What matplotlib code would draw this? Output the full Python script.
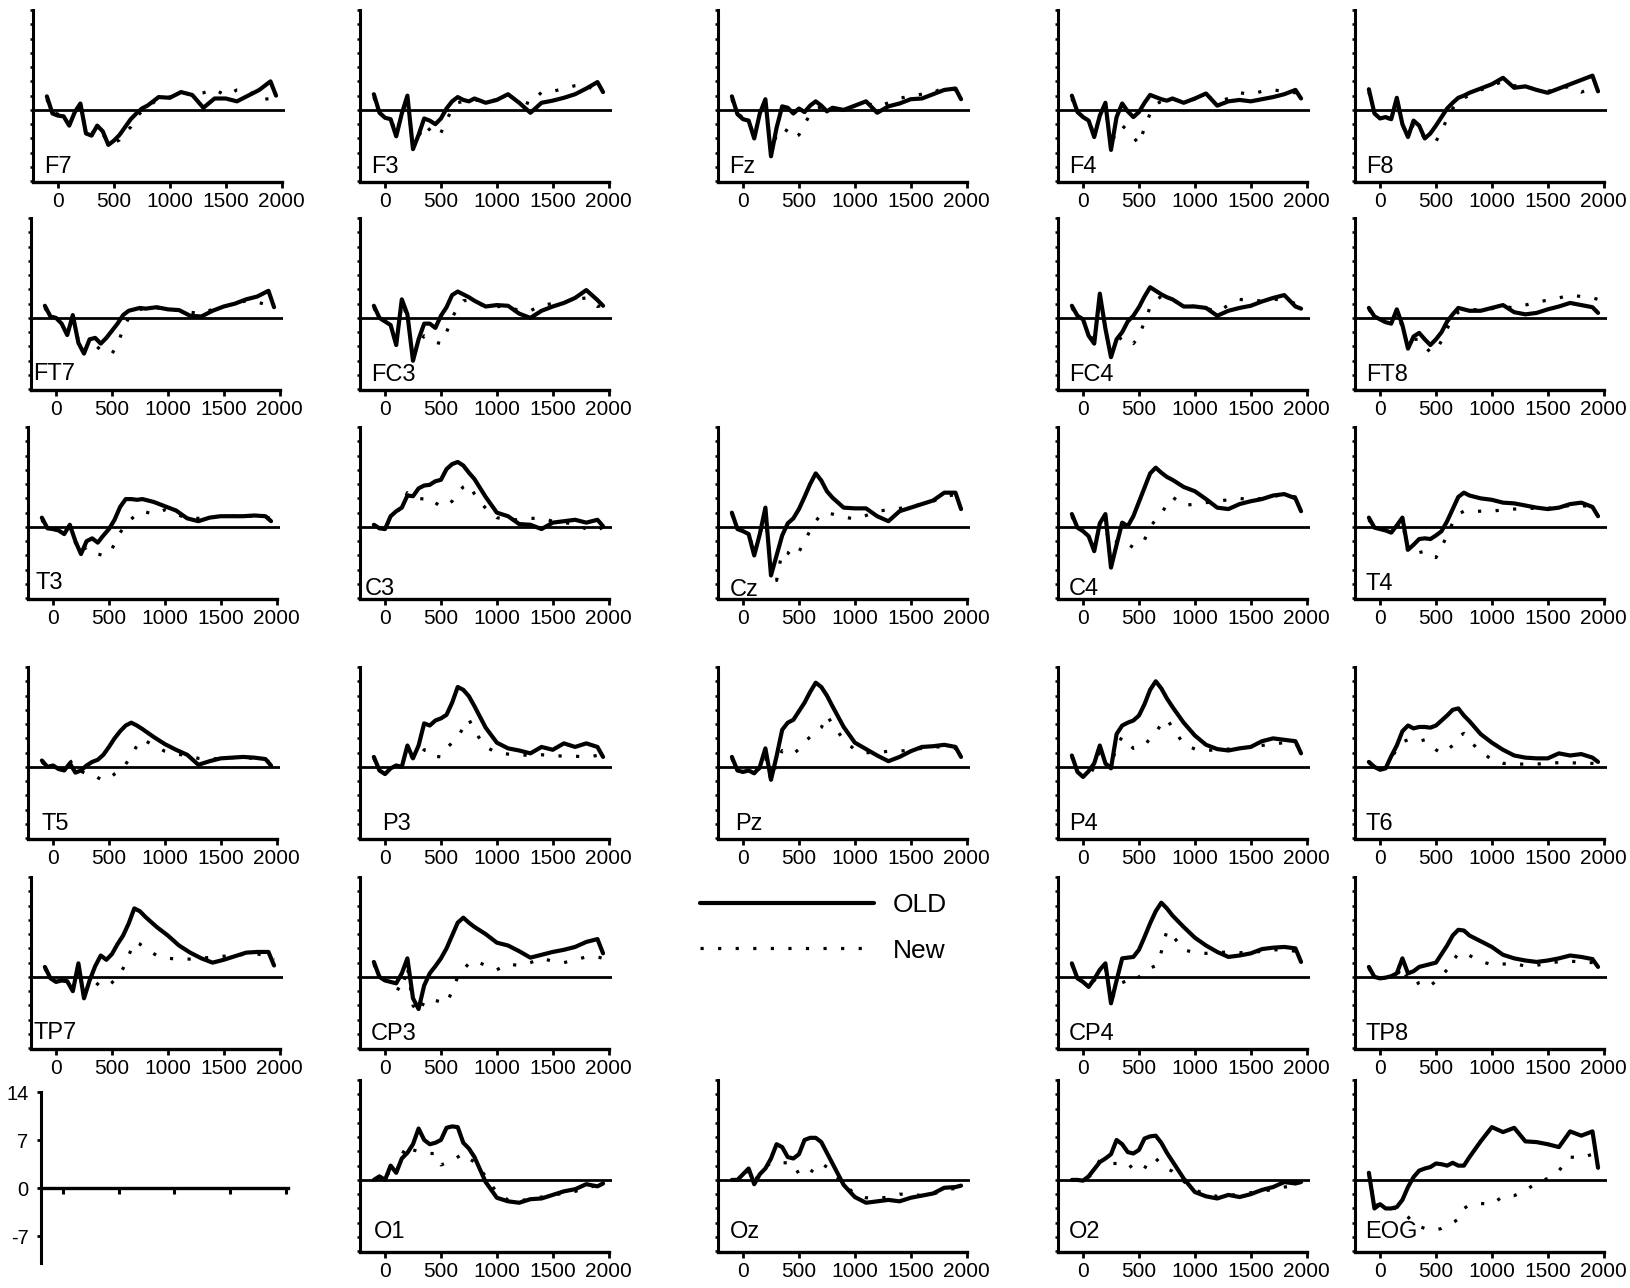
import matplotlib
matplotlib.use('Agg')
import matplotlib.pyplot as plt
from matplotlib.lines import Line2D

plt.rcParams['font.family'] = ['Liberation Sans', 'DejaVu Sans']

# ---------------- data ----------------
time_ms = [-100, -50, 0, 50, 100, 150, 200, 250, 300, 350, 400, 450, 500, 550, 600, 650, 700, 750, 800,
           900, 1000, 1100, 1200, 1300, 1400, 1500, 1600, 1700, 1800, 1900, 1950]

x_ticks = [0, 500, 1000, 1500, 2000]
scale_ticks = [14, 7, 0, -7]

f7_old = [1.9, -0.5, -0.8, -0.9, -2.2, -0.3, 0.9, -3.3, -3.6, -2.2, -3.0, -4.9, -4.3, -3.5, -2.4, -1.3, -0.5, 0.2, 0.6, 1.8, 1.7, 2.5, 2.1, 0.3, 1.6, 1.6, 1.2, 2.0, 2.8, 4.0, 2.0]
f7_new = [1.5, -0.3, -0.6, -1.0, -2.0, -0.5, 0.5, -3.0, -3.3, -2.5, -3.4, -4.5, -4.6, -4.2, -3.2, -2.4, -1.0, -0.2, 0.5, 1.5, 1.8, 2.4, 2.2, 2.4, 2.9, 2.0, 2.8, 2.8, 1.4, 1.6, 2.0]
f3_old = [2.2, -0.4, -1.1, -1.3, -3.7, -0.5, 2.0, -5.5, -3.5, -1.2, -1.5, -2.0, -1.2, 0.2, 1.2, 1.8, 1.4, 1.2, 1.6, 1.0, 1.4, 2.2, 1.0, -0.4, 1.0, 1.3, 1.7, 2.2, 3.0, 3.9, 2.5]
f3_new = [1.8, -0.4, -1.0, -1.2, -3.3, -0.6, 1.5, -5.0, -3.8, -2.0, -2.8, -3.7, -3.2, -1.5, 0.2, 1.0, 1.2, 1.2, 1.4, 1.2, 1.4, 2.0, 1.4, 0.8, 2.5, 2.6, 3.0, 3.4, 3.6, 2.2, 2.6]
fz_old = [1.9, -0.6, -1.3, -1.5, -4.0, -0.5, 1.5, -6.5, -2.5, 0.5, 0.3, -0.5, 0.2, -0.3, 0.6, 1.2, 0.6, -0.2, 0.3, 0.0, 0.6, 1.2, -0.4, 0.5, 0.9, 1.5, 1.6, 2.2, 2.8, 3.0, 1.5]
fz_new = [1.5, -0.5, -1.1, -1.5, -3.6, -0.6, 1.0, -5.8, -3.5, -2.5, -3.0, -4.0, -3.5, -2.0, -0.6, 0.2, 0.4, 0.0, 0.2, 0.2, 0.5, 1.0, 0.4, 1.0, 1.6, 2.0, 2.2, 2.4, 3.2, 2.8, 2.0]
f4_old = [2.0, -0.3, -1.0, -1.5, -3.8, -0.8, 1.0, -5.6, -1.0, 0.9, -0.2, -1.0, -0.3, 1.0, 2.1, 1.8, 1.5, 1.3, 1.6, 1.0, 1.6, 2.3, 0.6, 1.2, 1.4, 1.2, 1.5, 1.8, 2.2, 2.8, 1.6]
f4_new = [1.6, -0.3, -0.9, -1.4, -3.5, -0.9, 0.6, -5.0, -2.8, -2.2, -2.9, -3.8, -4.8, -2.5, -0.5, 0.8, 1.2, 1.4, 1.5, 1.2, 1.5, 2.0, 1.2, 1.6, 2.4, 2.2, 2.6, 2.8, 2.6, 2.4, 2.0]
f8_old = [2.9, -0.5, -1.2, -1.0, -1.3, 1.7, -2.0, -3.8, -1.5, -2.2, -4.0, -3.3, -2.2, -1.0, 0.2, 1.0, 1.7, 2.0, 2.4, 3.0, 3.6, 4.5, 3.1, 3.3, 2.8, 2.4, 3.0, 3.6, 4.2, 4.8, 2.6]
f8_new = [2.5, -0.5, -1.0, -1.0, -1.5, 1.2, -2.2, -3.5, -2.0, -2.8, -4.0, -4.6, -4.4, -3.0, -1.2, 0.2, 1.2, 1.7, 2.0, 2.8, 3.4, 4.0, 3.4, 3.2, 2.9, 2.6, 3.0, 3.3, 2.5, 3.0, 2.8]

ft7_old = [1.7, 0.2, 0.0, -0.8, -2.4, 0.4, -3.5, -5.0, -3.0, -2.8, -3.6, -2.8, -1.8, -0.8, 0.4, 1.0, 1.2, 1.4, 1.3, 1.5, 1.2, 1.1, 0.3, 0.2, 1.0, 1.6, 2.0, 2.6, 3.0, 3.8, 1.5]
ft7_new = [1.4, 0.2, 0.0, -0.8, -2.2, 0.0, -3.2, -4.6, -3.5, -3.8, -4.5, -5.0, -5.0, -3.8, -1.5, 0.0, 0.8, 1.2, 1.3, 1.4, 1.2, 1.0, 0.8, 0.6, 1.2, 1.6, 2.0, 2.4, 2.2, 1.8, 1.8]
fc3_old = [1.7, 0.0, -0.5, -1.0, -3.8, 2.6, 0.5, -6.0, -3.0, -0.8, -0.8, -1.4, 0.3, 1.5, 3.2, 3.7, 3.3, 2.9, 2.4, 1.6, 1.8, 1.7, 0.6, 0.0, 1.0, 1.6, 2.1, 2.8, 3.9, 2.5, 1.7]
fc3_new = [1.4, 0.0, -0.5, -1.0, -3.4, 2.0, 0.3, -5.5, -3.8, -2.5, -2.8, -3.4, -3.6, -2.0, 0.0, 1.5, 2.4, 2.5, 2.2, 1.6, 1.6, 1.6, 1.0, 1.0, 1.8, 2.0, 2.2, 2.6, 2.8, 1.6, 1.8]
fc4_old = [1.7, 0.3, -0.2, -2.5, -3.6, 3.4, -1.5, -5.5, -3.0, -2.0, -0.5, 0.3, 1.5, 3.0, 4.3, 3.8, 3.3, 2.9, 2.6, 1.6, 1.6, 1.4, 0.3, 1.0, 1.4, 1.7, 2.3, 2.8, 3.2, 1.6, 1.3]
fc4_new = [1.4, 0.3, -0.3, -2.2, -3.3, 2.8, -1.8, -5.0, -3.4, -2.6, -3.0, -3.6, -2.6, -0.5, 1.5, 2.5, 3.0, 2.8, 2.5, 1.8, 1.6, 1.4, 0.8, 1.8, 2.6, 2.4, 2.4, 2.6, 2.6, 2.0, 1.8]
ft8_old = [1.4, 0.2, -0.2, -0.6, -0.8, 1.2, -1.0, -4.3, -2.6, -2.1, -3.0, -3.8, -3.0, -2.0, -0.5, 0.5, 1.4, 1.2, 1.0, 1.0, 1.4, 1.8, 0.8, 0.5, 0.7, 1.2, 1.6, 2.1, 1.8, 1.5, 0.7]
ft8_new = [1.2, 0.2, -0.2, -0.6, -1.0, 0.8, -1.3, -4.0, -3.0, -3.0, -4.0, -4.8, -4.6, -3.2, -1.5, 0.0, 0.8, 1.0, 1.1, 1.2, 1.3, 1.6, 1.4, 1.8, 2.2, 2.5, 2.8, 3.2, 3.0, 2.8, 2.6]

t3_old = [1.3, -0.2, -0.3, -0.5, -1.0, 0.3, -2.0, -3.8, -2.0, -1.6, -2.2, -1.2, -0.3, 1.0, 2.8, 3.9, 3.9, 3.8, 3.9, 3.5, 2.9, 2.3, 1.2, 0.8, 1.3, 1.5, 1.5, 1.5, 1.6, 1.5, 0.8]
t3_new = [1.0, -0.2, -0.3, -0.5, -1.0, 0.0, -2.2, -3.6, -2.8, -3.0, -3.8, -4.0, -3.8, -2.4, -0.8, 0.3, 1.1, 1.8, 2.2, 1.8, 2.4, 1.8, 1.2, 1.2, 1.4, 1.5, 1.5, 1.5, 1.5, 1.4, 1.2]
c3_old = [0.3, -0.2, -0.3, 1.5, 2.2, 2.7, 4.4, 4.3, 5.4, 5.8, 5.9, 6.4, 6.6, 8.1, 8.8, 9.1, 8.6, 7.6, 6.7, 4.2, 2.0, 1.5, 0.4, 0.3, -0.3, 0.6, 0.8, 1.0, 0.6, 1.0, 0.1]
c3_new = [0.3, -0.2, -0.3, 1.3, 2.0, 2.8, 4.8, 4.2, 4.0, 3.9, 4.1, 3.4, 2.8, 3.0, 3.6, 4.8, 5.6, 6.0, 4.6, 2.6, 1.3, 1.0, 1.0, 1.2, 1.2, 0.8, 0.6, 0.4, -0.3, -0.5, 0.0]
cz_old = [2.0, -0.3, -0.6, -1.0, -4.0, -1.0, 2.7, -6.8, -4.0, -1.2, 0.5, 1.2, 2.5, 4.2, 6.0, 7.5, 6.5, 5.0, 4.1, 2.7, 2.6, 2.6, 1.5, 0.8, 2.2, 2.7, 3.2, 3.7, 4.8, 4.8, 2.5]
cz_new = [1.8, -0.3, -0.6, -1.0, -3.6, -1.2, 2.0, -6.0, -7.5, -3.4, -3.6, -4.3, -3.5, -2.0, -0.5, 0.8, 1.8, 2.0, 1.8, 1.4, 1.1, 1.6, 2.2, 2.4, 2.6, 2.8, 3.2, 3.6, 4.3, 4.5, 3.5]
c4_old = [1.8, -0.1, -0.6, -1.3, -3.4, 0.5, 1.8, -5.7, -2.5, 0.6, 0.1, 1.5, 3.5, 5.5, 7.5, 8.3, 7.6, 7.0, 6.6, 5.6, 5.0, 3.9, 2.7, 2.5, 3.2, 3.6, 3.9, 4.4, 4.6, 4.0, 2.2]
c4_new = [1.5, -0.1, -0.6, -1.2, -3.0, 0.2, 1.2, -5.2, -2.0, -1.8, -2.4, -2.9, -2.4, -1.8, 0.0, 1.0, 1.8, 3.2, 4.2, 3.0, 3.2, 3.4, 3.6, 3.8, 4.0, 3.8, 4.0, 4.3, 4.5, 4.2, 3.0]
t4_old = [1.3, -0.1, -0.3, -0.5, -0.8, 0.2, 1.3, -3.2, -2.5, -1.7, -1.6, -1.7, -1.2, -0.6, 0.8, 2.5, 4.2, 4.8, 4.4, 4.0, 3.8, 3.4, 3.3, 3.0, 2.7, 2.5, 2.7, 3.2, 3.4, 2.8, 1.5]
t4_new = [1.0, -0.1, -0.3, -0.5, -0.8, 0.0, 0.8, -3.6, -4.0, -3.6, -3.4, -3.9, -4.3, -2.8, -1.2, 0.6, 1.8, 2.2, 2.2, 2.2, 2.2, 2.4, 2.5, 2.6, 2.6, 2.6, 2.8, 3.0, 3.0, 2.8, 2.2]

t5_old = [0.9, 0.0, 0.2, -0.3, -0.5, 0.5, -0.8, -0.5, 0.2, 0.7, 1.0, 1.7, 2.8, 4.0, 5.0, 5.8, 6.2, 5.8, 5.3, 4.2, 3.2, 2.4, 1.7, 0.3, 0.8, 1.2, 1.3, 1.4, 1.3, 1.1, 0.2]
t5_new = [0.7, 0.0, 0.2, -0.3, 0.2, 1.0, -0.5, -0.6, -1.0, -1.0, -1.5, -1.9, -1.6, -1.0, -0.6, 0.4, 1.5, 3.0, 3.9, 3.0, 2.2, 1.8, 1.6, 1.2, 1.1, 1.2, 1.3, 1.3, 1.2, 1.0, 0.5]
p3_old = [1.4, -0.5, -1.0, -0.2, 0.2, 0.0, 3.0, 1.2, 3.0, 6.1, 5.8, 6.5, 6.8, 7.3, 9.0, 11.2, 10.8, 9.9, 8.5, 5.5, 3.4, 2.6, 2.3, 1.9, 2.8, 2.4, 3.3, 2.8, 3.3, 2.8, 1.4]
p3_new = [1.2, -0.5, -1.0, -0.2, 0.2, 0.0, 1.0, 1.5, 1.2, 2.4, 2.4, 1.5, 1.4, 2.6, 3.4, 4.2, 5.5, 6.7, 5.0, 2.8, 2.0, 1.8, 1.7, 1.6, 1.7, 1.6, 1.5, 1.5, 1.4, 1.6, 1.6]
pz_old = [1.4, -0.5, -0.7, -0.5, -0.9, 0.0, 2.6, -1.8, 1.5, 5.2, 6.2, 6.6, 7.8, 9.0, 10.5, 11.8, 11.2, 10.0, 8.5, 5.6, 3.4, 2.5, 1.6, 0.8, 1.4, 2.2, 2.8, 2.9, 3.1, 2.8, 1.4]
pz_new = [1.2, -0.5, -0.7, -0.5, -0.8, -0.2, 1.5, -1.9, 0.5, 2.3, 2.0, 1.8, 2.5, 3.5, 4.2, 4.8, 5.5, 7.2, 6.0, 3.8, 2.4, 2.0, 2.0, 2.2, 2.2, 2.4, 2.6, 2.8, 2.8, 2.6, 2.0]
p4_old = [1.6, -0.7, -1.4, -0.6, 0.5, 3.0, 0.5, -0.2, 4.6, 5.8, 6.2, 6.5, 7.2, 8.8, 10.8, 12.0, 11.0, 9.6, 8.4, 6.2, 4.4, 3.1, 2.5, 2.3, 2.6, 2.8, 3.6, 4.0, 3.8, 3.6, 1.9]
p4_new = [1.4, -0.7, -1.3, -1.4, 0.0, 2.2, 0.4, 0.0, 3.0, 4.2, 3.4, 2.6, 2.8, 3.0, 4.0, 4.8, 6.0, 6.7, 5.5, 3.2, 2.5, 2.3, 2.4, 2.5, 2.6, 2.8, 3.0, 3.2, 3.4, 3.2, 2.6]
t6_old = [0.7, 0.0, -0.4, -0.2, 1.5, 3.0, 5.0, 5.8, 5.4, 5.6, 5.6, 5.5, 5.8, 6.5, 7.2, 8.0, 8.2, 7.2, 6.4, 4.6, 3.4, 2.4, 1.6, 1.3, 1.2, 1.2, 1.9, 1.6, 1.8, 1.3, 0.7]
t6_new = [0.6, 0.0, -0.4, -0.2, 1.2, 2.5, 3.5, 3.8, 3.6, 3.6, 3.8, 3.0, 2.4, 1.9, 2.4, 3.0, 4.2, 4.7, 3.6, 2.2, 1.0, 0.5, 0.4, 0.4, 0.4, 0.5, 0.6, 0.6, 0.5, 0.5, 0.5]

tp7_old = [1.4, -0.2, -0.7, -0.5, -0.6, -2.0, 1.9, -3.0, -0.5, 1.5, 3.0, 2.4, 3.2, 4.6, 5.8, 7.5, 9.6, 9.2, 8.4, 7.0, 5.8, 4.4, 3.4, 2.6, 2.0, 2.4, 2.9, 3.4, 3.5, 3.5, 1.6]
tp7_new = [1.2, -0.2, -0.6, -0.5, -0.6, -1.6, 1.2, -2.5, -1.0, -0.7, -1.4, -1.4, -0.8, 0.0, 1.2, 3.0, 4.9, 4.6, 4.0, 3.0, 2.6, 2.5, 2.5, 2.6, 2.8, 2.9, 3.0, 3.2, 3.2, 3.0, 2.4]
cp3_old = [2.1, 0.0, -0.5, -0.7, -0.9, 0.5, 2.6, -3.0, -4.5, -1.2, 0.5, 1.5, 2.6, 4.0, 5.8, 7.6, 8.3, 7.6, 7.0, 6.0, 4.8, 4.4, 3.6, 2.7, 3.1, 3.5, 3.8, 4.2, 4.9, 5.3, 3.3]
cp3_new = [1.8, 0.0, -0.5, -0.7, -1.5, -2.0, 1.5, -4.0, -5.0, -3.5, -3.0, -3.3, -3.5, -3.7, -2.0, 0.0, 1.0, 1.9, 2.3, 1.6, 1.0, 1.8, 1.6, 2.0, 2.6, 2.2, 2.0, 2.4, 2.8, 2.8, 2.6]
cp4_old = [1.9, -0.2, -0.7, -1.4, -0.3, 1.0, 1.9, -3.7, -0.5, 2.6, 2.7, 2.8, 3.8, 5.6, 7.5, 9.2, 10.4, 9.6, 8.6, 7.0, 5.5, 4.4, 3.5, 2.8, 3.0, 3.3, 3.9, 4.1, 4.2, 4.0, 2.1]
cp4_new = [1.7, -0.2, -0.7, -1.3, -0.5, 0.5, 1.2, -3.2, -1.8, -0.8, -0.5, -0.7, 0.0, 0.6, 1.2, 1.6, 3.5, 6.5, 5.8, 3.8, 3.4, 3.3, 3.4, 3.5, 3.4, 3.4, 3.6, 3.8, 3.8, 3.6, 3.2]
tp8_old = [1.4, 0.0, -0.2, -0.1, 0.1, 0.5, 2.6, 0.5, 0.8, 1.4, 1.6, 1.8, 2.0, 3.2, 4.4, 5.8, 6.6, 6.5, 5.8, 5.0, 4.2, 3.1, 2.6, 2.3, 2.1, 2.3, 2.6, 3.0, 2.8, 2.5, 1.4]
tp8_new = [1.2, 0.0, -0.2, -0.1, 0.0, 0.2, 1.5, -0.5, -1.2, -0.8, -0.6, -1.2, -0.6, 0.2, 1.0, 2.2, 3.3, 3.4, 3.0, 2.2, 1.7, 1.8, 1.9, 1.5, 1.6, 2.0, 2.1, 2.2, 2.1, 2.0, 1.8]

o1_old = [0.0, 0.5, 0.0, 2.0, 1.0, 3.0, 3.8, 5.0, 7.2, 5.6, 5.0, 5.2, 5.6, 7.3, 7.5, 7.4, 5.2, 4.4, 3.2, -0.3, -2.5, -3.0, -3.2, -2.7, -2.6, -2.1, -1.6, -1.3, -0.6, -0.9, -0.5]
o1_new = [0.0, 0.4, 0.0, 1.6, 1.0, 3.5, 4.9, 4.2, 4.0, 3.8, 3.7, 3.7, 2.1, 2.4, 2.7, 3.2, 3.7, 3.0, 2.5, 0.5, -1.8, -2.8, -3.0, -2.6, -2.4, -2.2, -1.8, -1.6, -1.2, -0.7, -0.8]
oz_old = [0.0, 0.0, 0.8, 1.6, -0.6, 0.8, 1.6, 3.0, 5.0, 4.6, 3.2, 3.0, 3.6, 5.6, 5.9, 5.9, 5.3, 3.8, 2.3, -0.7, -2.4, -3.2, -3.0, -2.8, -3.0, -2.5, -2.2, -1.9, -1.1, -1.0, -0.8]
oz_new = [0.0, 0.0, 0.6, 1.2, -0.3, 1.0, 1.8, 2.4, 2.5, 2.4, 2.4, 2.3, 0.8, 0.6, 0.9, 2.0, 2.3, 1.8, 1.0, -0.5, -2.0, -2.5, -2.6, -2.4, -2.0, -2.0, -2.2, -2.0, -1.4, -1.2, -1.0]
o2_old = [0.0, 0.0, -0.1, 0.5, 1.5, 2.5, 3.0, 3.6, 5.6, 5.0, 3.9, 3.7, 4.2, 5.8, 6.1, 6.2, 5.2, 3.8, 2.6, 0.2, -1.7, -2.3, -2.6, -2.1, -2.4, -2.0, -1.4, -1.0, -0.3, -0.5, -0.3]
o2_new = [0.0, 0.0, -0.1, 0.4, 1.2, 2.8, 2.6, 2.3, 2.3, 2.4, 2.4, 1.4, 1.3, 1.6, 3.0, 3.0, 2.2, 1.6, 1.2, -0.2, -1.4, -2.0, -2.3, -2.2, -2.0, -1.8, -1.5, -1.4, -1.0, -0.8, -0.6]
eog_old = [1.0, -4.0, -3.4, -4.0, -4.0, -3.8, -2.8, -1.0, 0.4, 1.3, 1.6, 1.8, 2.3, 2.2, 2.0, 2.4, 2.0, 2.0, 3.2, 5.4, 7.4, 6.7, 7.3, 5.4, 5.3, 5.0, 4.6, 6.8, 6.2, 6.8, 1.7]
eog_new = [1.0, -3.6, -3.4, -3.8, -4.0, -4.0, -4.5, -5.2, -6.0, -6.5, -6.8, -7.0, -7.0, -6.8, -6.4, -6.0, -5.5, -4.0, -3.5, -3.3, -3.4, -2.3, -2.2, -1.5, -0.4, 0.2, 1.3, 3.2, 3.1, 3.6, 2.5]

series = {
    'F7': (f7_old, f7_new), 'F3': (f3_old, f3_new), 'Fz': (fz_old, fz_new),
    'F4': (f4_old, f4_new), 'F8': (f8_old, f8_new),
    'FT7': (ft7_old, ft7_new), 'FC3': (fc3_old, fc3_new),
    'FC4': (fc4_old, fc4_new), 'FT8': (ft8_old, ft8_new),
    'T3': (t3_old, t3_new), 'C3': (c3_old, c3_new), 'Cz': (cz_old, cz_new),
    'C4': (c4_old, c4_new), 'T4': (t4_old, t4_new),
    'T5': (t5_old, t5_new), 'P3': (p3_old, p3_new), 'Pz': (pz_old, pz_new),
    'P4': (p4_old, p4_new), 'T6': (t6_old, t6_new),
    'TP7': (tp7_old, tp7_new), 'CP3': (cp3_old, cp3_new),
    'CP4': (cp4_old, cp4_new), 'TP8': (tp8_old, tp8_new),
    'O1': (o1_old, o1_new), 'Oz': (oz_old, oz_new), 'O2': (o2_old, o2_new),
    'EOG': (eog_old, eog_new),
}

grid = [
    ['F7', 'F3', 'Fz', 'F4', 'F8'],
    ['FT7', 'FC3', None, 'FC4', 'FT8'],
    ['T3', 'C3', 'Cz', 'C4', 'T4'],
    ['T5', 'P3', 'Pz', 'P4', 'T6'],
    ['TP7', 'CP3', 'LEGEND', 'CP4', 'TP8'],
    ['SCALE', 'O1', 'Oz', 'O2', 'EOG'],
]

# ---------------- layout (pixels) ----------------
W, H, DPI = 1631, 1288, 100
row_top = [10, 218, 427, 667, 877, 1080]
col_left = [None, 360, 718, 1058, 1355]
first_col_left = [33, 31, 28, 28, 31, 41]
PW, PH = 252, 172
XMIN, XMAX = -224, 2030
YMIN, YMAX = -10.1, 14

label_offset = {'P3': (22, 9), 'Pz': (17, 9), 'T5': (13, 9), 'C3': (5, 4), 'Cz': (12, 3),
                'C4': (11, 4), 'TP7': (3, 10), 'FT7': (2, 10), 'T3': (7, 10),
                'O1': (14, 14), 'Oz': (12, 14), 'O2': (11, 14), 'EOG': (10, 14)}

OLD_STYLE = dict(color='black', lw=3.0, solid_joinstyle='round', solid_capstyle='round')
NEW_STYLE = dict(color='black', lw=2.3, linestyle=(0, (1, 4.5)))

fig = plt.figure(figsize=(W / DPI, H / DPI), dpi=DPI)


def px_axes(left, top, w, h):
    return fig.add_axes([left / W, 1 - (top + h) / H, w / W, h / H])


for r, row in enumerate(grid):
    for c, name in enumerate(row):
        if name is None or name == 'LEGEND':
            continue
        left = first_col_left[r] if c == 0 else col_left[c]
        top = row_top[r]
        if name == 'SCALE':
            ax = px_axes(left, 1092, 247, 171)
            ax.set_xlim(-197, 2020)
            ax.set_ylim(-10.9, 14)
            for s in ('top', 'right'):
                ax.spines[s].set_visible(False)
            ax.spines['left'].set_linewidth(2.2)
            ax.spines['bottom'].set_position(('data', 0))
            ax.spines['bottom'].set_linewidth(2.4)
            ax.set_xticks(x_ticks)
            ax.set_xticklabels([])
            ax.set_yticks(scale_ticks)
            ax.set_yticklabels([str(v) for v in scale_ticks], fontsize=14.5)
            ax.tick_params(axis='x', length=4, width=2.2, direction='out')
            ax.tick_params(axis='y', length=3, width=2.0, direction='out', pad=6)
            ax.patch.set_alpha(0)
            continue
        ax = px_axes(left, top, PW, PH)
        old, new = series[name]
        ax.plot(time_ms, new, **NEW_STYLE)
        ax.plot(time_ms, old, **OLD_STYLE)
        ax.axhline(0, color='black', lw=2.0)
        ax.set_xlim(XMIN, XMAX)
        ax.set_ylim(YMIN, YMAX)
        for s in ('top', 'right'):
            ax.spines[s].set_visible(False)
        ax.spines['left'].set_linewidth(2.2)
        ax.spines['bottom'].set_linewidth(2.4)
        ax.spines['bottom'].set_bounds(XMIN, 2000)
        ax.set_xticks(x_ticks)
        ax.set_xticklabels([str(v) for v in x_ticks], fontsize=15)
        ax.set_yticks(list(range(-10, 15, 2)))
        ax.set_yticklabels([])
        ax.tick_params(axis='x', length=4, width=2.0, direction='out', pad=3)
        ax.tick_params(axis='y', length=2.5, width=1.8, direction='out')
        dx, dy = label_offset.get(name, (11, 9))
        ax.text(dx / PW, dy / PH, name, transform=ax.transAxes, fontsize=17,
                ha='left', va='baseline')
        ax.patch.set_alpha(0)

handles = [Line2D([], [], **OLD_STYLE), Line2D([], [], **NEW_STYLE)]
fig.legend(handles, ['OLD', 'New'], loc='center left',
           bbox_to_anchor=(700 / W, 1 - 928 / H), frameon=False, fontsize=19,
           handlelength=6.6, handletextpad=0.7, labelspacing=0.8,
           borderpad=0, borderaxespad=0)

fig.savefig('out.png', dpi=DPI)
